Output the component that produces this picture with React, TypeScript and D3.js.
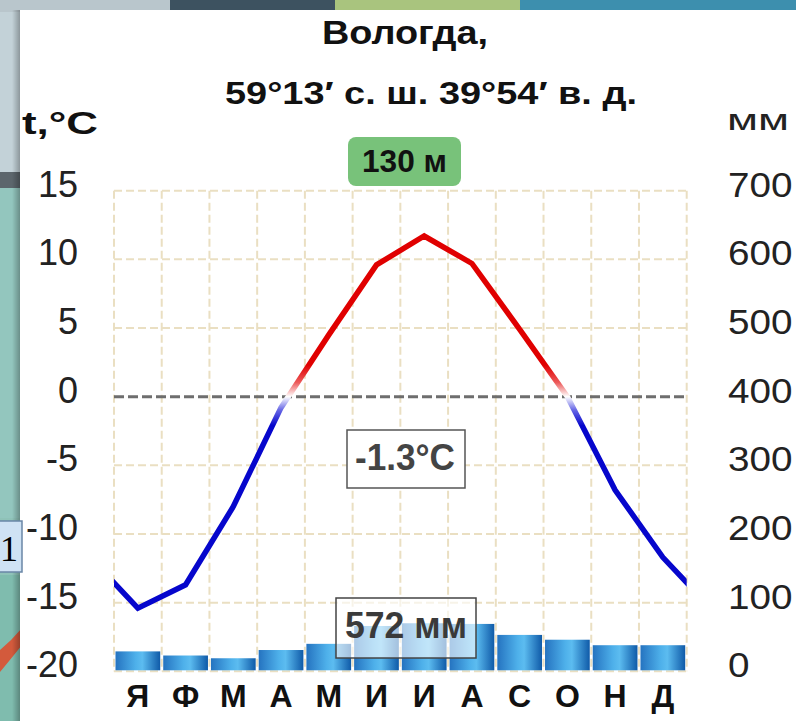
import React from 'react';
import * as d3 from 'd3';

const months = ['Я', 'Ф', 'М', 'А', 'М', 'И', 'И', 'А', 'С', 'О', 'Н', 'Д'];
const temperature = [-15.4, -13.7, -8.0, -0.8, 4.5, 9.6, 11.7, 9.7, 4.9, 0.0, -6.8, -11.7];
const precipitation = [29, 23, 19, 31, 40, 66, 70, 69, 53, 46, 38, 38];
const tempTicks = [15, 10, 5, 0, -5, -10, -15, -20];
const precipTicks = [700, 600, 500, 400, 300, 200, 100, 0];
const titleText = 'Вологда,';
const coordText = '59°13′ с. ш. 39°54′ в. д.';
const altitudeText = '130 м';
const meanTempText = '-1.3°C';
const totalPrecipText = '572 мм';
const tempUnit = 't,°C';
const precipUnit = 'мм';

const W = 796;
const H = 721;
const FONT = '"Liberation Sans", Arial, sans-serif';

export default function App() {
  const x0 = 114;
  const x1 = 686.7;
  const yTop = 190.7;
  const yBot = 671.3;

  const x = d3.scaleBand<number>().domain(d3.range(12)).range([x0, x1]).padding(0);
  const bw = x.bandwidth();
  const xc = (i: number) => x0 + (i + 0.5) * bw;
  const yT = d3.scaleLinear().domain([-20, 15]).range([yBot, yTop]);
  const yP = d3.scaleLinear().domain([0, 700]).range([yBot, yTop]);

  const ext = [
    { i: -1, t: temperature[11] },
    ...temperature.map((t, i) => ({ i, t })),
    { i: 12, t: temperature[0] },
  ];
  const line = d3
    .line<{ i: number; t: number }>()
    .x((d) => xc(d.i))
    .y((d) => yT(d.t));

  const gridX = d3.range(13).map((i) => x0 + i * bw);
  const gridY = tempTicks.filter((t) => t !== 0);

  const gY1 = yT(2.3);
  const gY2 = yT(-2.1);
  const zeroOff = (yT(0) - gY1) / (gY2 - gY1);

  return (
    <svg
      width={W}
      height={H}
      viewBox={`0 0 ${W} ${H}`}
      style={{ position: 'absolute', left: 0, top: 0, display: 'block' }}
    >
      <defs>
        <linearGradient id="barGrad" x1="0" x2="1" y1="0" y2="0">
          <stop offset="0" stopColor="#2573c0" />
          <stop offset="0.45" stopColor="#4eb0ea" />
          <stop offset="0.6" stopColor="#5cbcf0" />
          <stop offset="1" stopColor="#0f5aa8" />
        </linearGradient>
        <linearGradient
          id="tempGrad"
          gradientUnits="userSpaceOnUse"
          x1="0"
          x2="0"
          y1={gY1}
          y2={gY2}
        >
          <stop offset="0" stopColor="#e00000" />
          <stop offset={zeroOff * 0.55} stopColor="#ec5a5a" />
          <stop offset={zeroOff} stopColor="#ffffff" />
          <stop offset={zeroOff + (1 - zeroOff) * 0.45} stopColor="#6a6ae6" />
          <stop offset="1" stopColor="#0606cc" />
        </linearGradient>
        <linearGradient id="shadow" x1="0" x2="1" y1="0" y2="0">
          <stop offset="0" stopColor="#000" stopOpacity="0" />
          <stop offset="1" stopColor="#000" stopOpacity="0.35" />
        </linearGradient>
        <clipPath id="plotClip">
          <rect x={x0} y={150} width={x1 - x0} height={530} />
        </clipPath>
      </defs>

      {/* surrounding screenshot background */}
      <rect x={0} y={0} width={W} height={H} fill="#8fc2b8" />
      <rect x={0} y={0} width={170} height={12} fill="#b9c6cc" />
      <rect x={170} y={0} width={165} height={12} fill="#3d5260" />
      <rect x={335} y={0} width={185} height={12} fill="#a9c47e" />
      <rect x={520} y={0} width={276} height={12} fill="#3d8fae" />
      <rect x={0} y={12} width={22} height={160} fill="#c3d2d8" />
      <rect x={0} y={172} width={22} height={16} fill="#5c666c" />
      <rect x={0} y={188} width={22} height={330} fill="#93c6be" />
      <rect x={0} y={575} width={22} height={146} fill="#7fbcae" />
      <path d="M0,650 Q12,640 22,628 L22,645 Q10,660 0,672 Z" fill="#d35a3c" />
      <rect x={12} y={10} width={10} height={H} fill="url(#shadow)" />

      {/* white panel */}
      <rect x={20} y={10} width={W - 20} height={H - 10} fill="#ffffff" />

      {/* "1" box fragment */}
      <rect x={-4} y={521} width={26} height={51} fill="#cfe2f4" stroke="#6a86a6" strokeWidth={1.5} />
      <text x={0} y={561} fontFamily="serif" fontSize={36} fill="#000">1</text>

      {/* grid */}
      <g stroke="#eadfc2" strokeWidth={2} strokeDasharray="8 4" fill="none">
        {gridX.map((gx, i) => (
          <line key={'gx' + i} x1={gx} x2={gx} y1={yTop} y2={yBot} />
        ))}
        {gridY.map((t) => (
          <line key={'gy' + t} x1={x0} x2={x1} y1={yT(t)} y2={yT(t)} />
        ))}
      </g>

      {/* bars */}
      {precipitation.map((p, i) => (
        <rect
          key={'b' + i}
          x={(x(i) as number) + 1.5}
          y={yP(p)}
          width={bw - 3}
          height={yBot - 1 - yP(p)}
          fill="url(#barGrad)"
        />
      ))}

      {/* zero line */}
      <line
        x1={x0}
        x2={x1}
        y1={yT(0)}
        y2={yT(0)}
        stroke="#6e6e6e"
        strokeWidth={3}
        strokeDasharray="10 4"
      />

      {/* temperature line */}
      <path
        d={line(ext) || ''}
        clipPath="url(#plotClip)"
        fill="none"
        stroke="url(#tempGrad)"
        strokeWidth={5.5}
        strokeLinejoin="miter"
      />

      {/* titles */}
      <text x={405} y={44} textAnchor="middle" fontFamily={FONT} fontWeight="bold" fontSize={33} fill="#111" textLength={166} lengthAdjust="spacingAndGlyphs">
        {titleText}
      </text>
      <text x={431} y={104} textAnchor="middle" fontFamily={FONT} fontWeight="bold" fontSize={32} fill="#111" textLength={412} lengthAdjust="spacingAndGlyphs">
        {coordText}
      </text>
      <text x={22} y={134} fontFamily={FONT} fontWeight="bold" fontSize={32} fill="#111" textLength={76} lengthAdjust="spacingAndGlyphs">
        {tempUnit}
      </text>
      <text x={727} y={130} fontFamily={FONT} fontSize={30} fill="#222" textLength={62} lengthAdjust="spacingAndGlyphs">
        {precipUnit}
      </text>

      {/* altitude badge */}
      <rect x={348} y={137} width={113} height={49} rx={8} fill="#78c27a" />
      <text x={404.5} y={172} textAnchor="middle" fontFamily={FONT} fontWeight="bold" fontSize={31} fill="#111" textLength={85} lengthAdjust="spacingAndGlyphs">
        {altitudeText}
      </text>

      {/* left ticks */}
      {tempTicks.map((t) => (
        <text key={'lt' + t} x={78} y={yT(t) + 6} textAnchor="end" fontFamily={FONT} fontSize={36} fill="#222">
          {String(t)}
        </text>
      ))}
      {/* right ticks */}
      {precipTicks.map((p) => (
        <text
          key={'rt' + p}
          x={728}
          y={yP(p) + 6}
          fontFamily={FONT}
          fontSize={35}
          fill="#222"
          textLength={String(p).length * 21.5}
          lengthAdjust="spacingAndGlyphs"
        >
          {String(p)}
        </text>
      ))}

      {/* mean temperature box */}
      <rect x={347} y={430} width={118} height={58} fill="#ffffff" stroke="#555" strokeWidth={1.5} />
      <text x={405} y={470} textAnchor="middle" fontFamily={FONT} fontWeight="bold" fontSize={37} fill="#444" textLength={100} lengthAdjust="spacingAndGlyphs">
        {meanTempText}
      </text>

      {/* precipitation total box */}
      <rect x={336} y={598} width={140} height={60} fill="#ffffff" fillOpacity={0.62} stroke="#444" strokeWidth={1.5} />
      <text x={406} y={638} textAnchor="middle" fontFamily={FONT} fontWeight="bold" fontSize={36} fill="#3a3a3a" textLength={122} lengthAdjust="spacingAndGlyphs">
        {totalPrecipText}
      </text>

      {/* months */}
      {months.map((m, i) => (
        <text key={'m' + i} x={xc(i)} y={707} textAnchor="middle" fontFamily={FONT} fontWeight="bold" fontSize={32} fill="#111">
          {m}
        </text>
      ))}
    </svg>
  );
}
